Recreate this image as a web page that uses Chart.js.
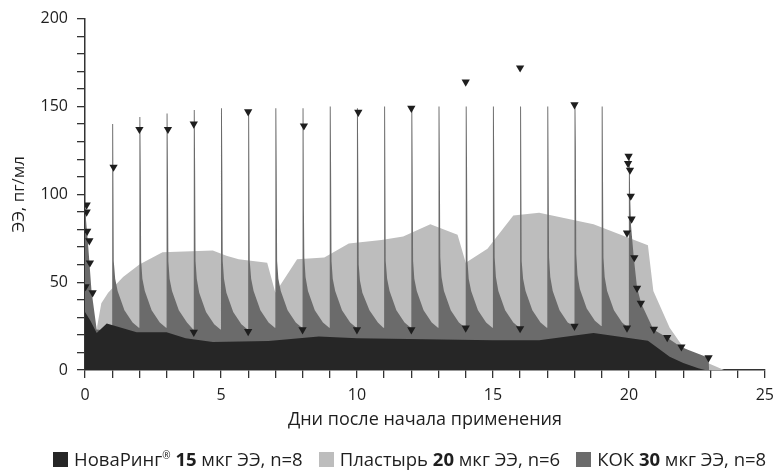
<!DOCTYPE html>
<html>
<head>
<meta charset="utf-8">
<script src="https://cdn.jsdelivr.net/npm/chart.js@4.4.0/dist/chart.umd.min.js"></script>
<style>
  html, body { margin: 0; padding: 0; background: #fff; }
  #wrap { position: relative; width: 782px; height: 472px; }
  #legend {
    position: absolute; left: 53px; top: 449px;
    display: flex; gap: 16px;
    font-family: 'Open Sans', sans-serif; font-size: 18.5px; color: #1e1e1e;
    white-space: nowrap; line-height: 20px;
  }
  #legend i { display: inline-block; width: 15px; height: 15px; margin-right: 6px; vertical-align: -1px; }
  #legend sup { font-size: 10px; vertical-align: 7px; line-height: 0; }
</style>
</head>
<body>
<div id="wrap">
  <canvas id="chart" width="782" height="472"></canvas>
  <div id="legend">
    <span><i style="background:#262626"></i>НоваРинг<sup>®</sup> <b>15</b> мкг ЭЭ, n=8</span>
    <span><i style="background:#bdbdbd"></i>Пластырь <b>20</b> мкг ЭЭ, n=6</span>
    <span><i style="background:#6b6b6b"></i>КОК <b>30</b> мкг ЭЭ, n=8</span>
  </div>
</div>
<script>
// НоваРинг 15 мкг ЭЭ: [день, пг/мл]
const ringPoints = [
  [0, 33], [0.2, 28], [0.43, 21], [0.8, 26.5], [1.9, 21.5], [3.0, 21.5], [3.7, 18],
  [4.7, 16], [6.75, 16.5], [8.6, 19], [10, 18], [15, 17], [16.7, 17], [18.7, 21],
  [20.7, 16.6], [21.5, 7.5], [22, 4], [22.55, 1], [22.8, 0]
];

// Пластырь 20 мкг ЭЭ
const patchPoints = [
  [0.4, 0], [0.45, 25], [0.6, 38], [0.85, 44], [1.4, 53], [2.0, 60], [2.85, 67],
  [4.7, 68], [5.2, 65], [5.65, 63], [6.7, 61], [7.0, 44], [7.8, 63], [8.8, 64],
  [9.7, 72], [10.9, 74], [11.7, 76], [12.7, 83], [13.7, 77], [14.0, 61], [14.8, 69],
  [15.75, 88], [16.7, 89.5], [18.7, 83], [20.7, 71], [20.9, 45], [21.5, 24],
  [22, 13], [22.9, 4], [23.5, 0]
];

// КОК 30 мкг ЭЭ, один ряд на день приёма
const cocPoints = [
  [0, 33], [0, 94], [0.04, 85], [0.12, 70], [0.24, 45], [0.43, 23], [0.99, 22],
  [1, 22], [1, 140], [1.035, 140], [1.05, 110], [1.065, 62], [1.11, 52], [1.2, 45], [1.45, 34], [1.75, 27], [1.98, 24],
  [2, 24], [2, 144], [2.035, 144], [2.05, 112], [2.065, 62], [2.11, 52], [2.2, 45], [2.45, 34], [2.75, 27], [2.98, 24],
  [3, 24], [3, 146], [3.035, 146], [3.05, 112], [3.065, 62], [3.11, 52], [3.2, 45], [3.45, 34], [3.75, 27], [3.98, 23],
  [4, 23], [4, 148], [4.035, 148], [4.05, 112], [4.065, 62], [4.11, 52], [4.2, 44], [4.45, 33], [4.75, 26], [4.98, 23],
  [5, 23], [5, 149], [5.035, 149], [5.05, 112], [5.065, 62], [5.11, 52], [5.2, 44], [5.45, 33], [5.75, 26], [5.98, 23],
  [6, 23], [6, 148], [6.035, 148], [6.05, 112], [6.065, 62], [6.11, 52], [6.2, 45], [6.45, 34], [6.75, 27], [6.98, 24],
  [7, 24], [7, 149], [7.035, 149], [7.05, 112], [7.065, 62], [7.11, 52], [7.2, 45], [7.45, 34], [7.75, 27], [7.98, 24],
  [8, 24], [8, 149], [8.035, 149], [8.05, 92], [8.065, 64], [8.11, 53], [8.2, 45], [8.45, 34], [8.75, 27], [8.98, 24],
  [9, 24], [9, 150], [9.035, 150], [9.05, 112], [9.065, 62], [9.11, 52], [9.2, 45], [9.45, 34], [9.75, 27], [9.98, 24],
  [10, 24], [10, 149], [10.035, 149], [10.05, 110], [10.065, 60], [10.11, 51], [10.2, 44], [10.46, 34], [10.77, 27], [10.97, 24],
  [11, 24], [11, 150], [11.035, 150], [11.05, 112], [11.065, 62], [11.11, 52], [11.2, 45], [11.45, 34], [11.75, 27], [11.98, 24],
  [12, 24], [12, 150], [12.035, 150], [12.05, 112], [12.065, 62], [12.11, 52], [12.2, 45], [12.45, 34], [12.75, 27], [12.98, 24],
  [13, 24], [13, 150], [13.035, 150], [13.05, 113], [13.065, 64], [13.11, 53], [13.2, 45], [13.45, 34], [13.75, 27], [13.98, 24],
  [14, 24], [14, 150], [14.035, 150], [14.05, 112], [14.065, 62], [14.11, 52], [14.2, 45], [14.45, 34], [14.75, 27], [14.98, 24],
  [15, 24], [15, 150], [15.035, 150], [15.05, 111], [15.065, 64], [15.11, 53], [15.2, 45], [15.45, 34], [15.75, 27], [15.98, 24],
  [16, 24], [16, 150], [16.035, 150], [16.05, 112], [16.065, 62], [16.11, 52], [16.2, 45], [16.45, 34], [16.75, 27], [16.98, 24],
  [17, 24], [17, 150], [17.035, 150], [17.05, 108], [17.065, 64], [17.11, 53], [17.2, 45], [17.45, 34], [17.75, 27], [17.98, 25],
  [18, 25], [18, 150], [18.035, 150], [18.05, 127], [18.065, 66], [18.11, 54], [18.2, 46], [18.45, 35], [18.75, 28], [18.98, 25],
  [19, 25], [19, 150], [19.035, 150], [19.05, 106], [19.065, 64], [19.11, 53], [19.2, 45], [19.45, 34], [19.75, 27], [19.98, 24],
  [20, 24], [20, 122], [20.03, 122], [20.045, 100], [20.08, 82], [20.18, 64], [20.3, 47], [20.45, 38], [20.9, 23],
  [21.4, 18.5], [21.93, 13], [22.93, 7], [22.95, 0]
];

// отдельные измерения (маркеры ▼)
const markerPoints = [
  [0.06, 94], [0.06, 90], [0.08, 79], [0.16, 73.6], [0.18, 61], [0.02, 47.5], [0.28, 44],
  [1.05, 115.5], [2.0, 137], [3.05, 137], [4.0, 140], [6.0, 147], [8.05, 139],
  [10.05, 146.7], [12.0, 149], [14.0, 164], [16.0, 172], [18.0, 151],
  [4.0, 21.5], [6.0, 22], [8.0, 23], [10.0, 23], [12.0, 23], [14.0, 24], [16.0, 23.6], [18.0, 25],
  [19.99, 121.7], [19.97, 117.6], [20.04, 113.8], [20.07, 99], [20.1, 86], [19.93, 78],
  [20.2, 64], [20.3, 46.6], [20.44, 38], [19.93, 24], [20.92, 23.2], [21.41, 18.5],
  [21.93, 13.2], [22.93, 7]
];

const xTicks = [0, 5, 10, 15, 20, 25];
const yTicks = [0, 50, 100, 150, 200];

const toXY = pts => pts.map(p => ({ x: p[0], y: p[1] }));
const FONT = "'Open Sans', sans-serif";
const AXIS = '#333';

function area(label, pts, color, order) {
  return {
    label, data: toXY(pts), order,
    backgroundColor: color, borderColor: color, borderWidth: 0,
    pointRadius: 0, fill: 'origin', tension: 0
  };
}

new Chart(document.getElementById('chart').getContext('2d'), {
  type: 'line',
  data: {
    datasets: [
      area('НоваРинг', ringPoints, '#262626', 1),
      area('Пластырь', patchPoints, '#bdbdbd', 3),
      area('КОК', cocPoints, '#6b6b6b', 2),
      {
        label: 'маркеры', data: toXY(markerPoints), order: 0,
        showLine: false, pointStyle: 'triangle', rotation: 180,
        pointRadius: 4.8, backgroundColor: '#1e1e1e', borderColor: '#1e1e1e', borderWidth: 0
      }
    ]
  },
  options: {
    responsive: false,
    animation: false,
    layout: { padding: { left: 0, top: 17, right: 12, bottom: 40 } },
    plugins: { legend: { display: false }, tooltip: { enabled: false } },
    scales: {
      x: {
        type: 'linear', min: 0, max: 25,
        afterFit: s => { s.height = 62; },
        ticks: {
          stepSize: 1, autoSkip: false, maxRotation: 0, padding: 8,
          color: '#1e1e1e', font: { family: FONT, size: 16 },
          callback: v => xTicks.includes(v) ? String(v) : ''
        },
        grid: { drawOnChartArea: false, drawTicks: true, tickLength: 8, color: AXIS, lineWidth: 1.3 },
        border: { color: AXIS, width: 1.5 },
        title: {
          display: true, text: 'Дни после начала применения', color: '#1e1e1e',
          font: { family: FONT, size: 18 }, padding: { top: 0, bottom: 1 }
        }
      },
      y: {
        min: 0, max: 200,
        afterFit: s => { s.width = 85; },
        ticks: {
          stepSize: 10, autoSkip: false, padding: 9,
          color: '#1e1e1e', font: { family: FONT, size: 16 },
          callback: v => yTicks.includes(v) ? String(v) : ''
        },
        grid: { drawOnChartArea: false, drawTicks: true, tickLength: 8, color: AXIS, lineWidth: 1.3 },
        border: { color: AXIS, width: 1.5 },
        title: {
          display: true, text: 'ЭЭ, пг/мл', color: '#1e1e1e',
          font: { family: FONT, size: 17 }, padding: { top: 9, bottom: 0 }
        }
      }
    }
  }
});
</script>
</body>
</html>
